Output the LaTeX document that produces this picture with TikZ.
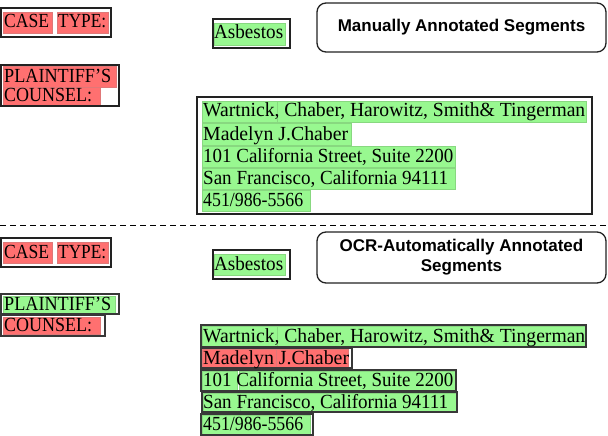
\documentclass[tikz,border=0pt]{standalone}
\usepackage{fontspec}
\setmainfont{Liberation Serif}
\setsansfont{Liberation Sans}
\usepackage{graphicx}
\definecolor{hlred}{HTML}{FF7070}
\definecolor{hlgreen}{HTML}{98F890}
\definecolor{hlredline}{HTML}{E07878}
\definecolor{hlgreenline}{HTML}{88D880}
\definecolor{boxline}{HTML}{222222}
\newcommand{\fw}[2]{\resizebox{#1pt}{\height}{#2}}
\tikzset{
  hlr/.style={fill=hlred, draw=hlredline, line width=0.6pt},
  hlg/.style={fill=hlgreen, draw=hlgreenline, line width=0.6pt},
  txt/.style={anchor=base west, inner sep=0pt, font=\fontsize{20}{23}\selectfont},
  frame/.style={draw=boxline, line width=1.6pt},
  segframe/.style={draw=boxline!90, line width=1.8pt},
  titlebox/.style={draw=boxline, line width=1.3pt, rounded corners=9pt,
    font=\sffamily\bfseries\fontsize{17}{20}\selectfont, align=center,
    minimum width=289pt, inner sep=0pt},
  sep/.style={dashed, dash pattern=on 6pt off 4pt, line width=1pt}
}
\begin{document}
\begin{tikzpicture}[x=1pt,y=-1pt]
\useasboundingbox (0,0) rectangle (608,436);
\fill[white] (0,0) rectangle (608,436);

% ---------- top: manually annotated ----------
\path[hlr] (3,12) rectangle (52,33);
\path[hlr] (57,12) rectangle (108,33);
\draw[frame] (1,8) rectangle (111,37);
\node[txt] (case1) at (4,28) {\fw{45}{CASE}};
\node[txt] (type1) at (58,28) {\fw{48}{TYPE:}};

\path[hlr] (3,66) rectangle (116,87);
\path[hlr] (3,87) rectangle (100,105);
\draw[frame] (1,65) rectangle (119,106);
\node[txt] (plain1) at (4,82) {\fw{107}{PLAINTIFF'S}};
\node[txt] (couns1) at (4,102) {\fw{88}{COUNSEL:}};

\path[hlg] (214,23) rectangle (285,45);
\draw[frame] (213,19) rectangle (290,48);
\node[txt] (asb1) at (214,39) {\fw{69}{Asbestos}};

\node[titlebox, minimum height=49pt] (manual) at (461.5,27.5) {Manually Annotated Segments};

\path[hlg] (202,101) rectangle (277,122);
\path[hlg] (277,101) rectangle (586,122);
\path[hlg] (202,123) rectangle (351,145);
\path[hlg] (202,146) rectangle (455,167);
\path[hlg] (202,168) rectangle (455,189);
\path[hlg] (202,190) rectangle (310,211);
\draw[frame] (197,97) rectangle (592,214);
\node[txt] (addrA1) at (203,117) {\fw{382}{Wartnick, Chaber, Harowitz, Smith\& Tingerman}};
\node[txt] (addrA2) at (203,140) {\fw{145}{Madelyn J.Chaber}};
\node[txt] (addrA3) at (203,162) {\fw{250}{101 California Street, Suite 2200}};
\node[txt] (addrA4) at (203,184) {\fw{245}{San Francisco, California 94111}};
\node[txt] (addrA5) at (203,206) {\fw{100}{451/986-5566}};

% ---------- separator ----------
\draw[sep] (0,225) -- (608,225);

% ---------- bottom: OCR ----------
\path[hlr] (3,242) rectangle (52,263);
\path[hlr] (57,242) rectangle (108,263);
\draw[frame] (1,238) rectangle (111,267);
\node[txt] (case2) at (4,258) {\fw{45}{CASE}};
\node[txt] (type2) at (58,258) {\fw{48}{TYPE:}};

\path[hlg] (3,296) rectangle (115,313);
\draw[segframe] (1,294) rectangle (119,314);
\node[txt] (plain2) at (4,310) {\fw{107}{PLAINTIFF'S}};
\path[hlr] (3,317) rectangle (100,334);
\draw[segframe] (1,315) rectangle (105,336);
\node[txt] (couns2) at (4,331) {\fw{88}{COUNSEL:}};

\path[hlg] (214,254) rectangle (285,275);
\draw[frame] (213,250) rectangle (290,279);
\node[txt] (asb2) at (214,270) {\fw{69}{Asbestos}};

\node[titlebox, minimum height=51pt] (ocr) at (461.5,257.5) {OCR-Automatically Annotated\\Segments};

\path[hlg] (202,326) rectangle (277,346);
\path[hlg] (277,326) rectangle (585,346);
\draw[segframe] (201,325) rectangle (586,347);
\node[txt] (addrB1) at (203,342) {\fw{382}{Wartnick, Chaber, Harowitz, Smith\& Tingerman}};

\path[hlr] (202,349) rectangle (276,367);
\path[hlr] (276,349) rectangle (348,367);
\draw[segframe] (201,348) rectangle (352,368);
\node[txt] (addrB2) at (203,364) {\fw{146}{Madelyn J.Chaber}};

\path[hlg] (202,371) rectangle (237,390);
\path[hlg] (239,371) rectangle (455,390);
\draw[segframe] (201,370) rectangle (456,391);
\node[txt] (addrB3) at (203,386) {\fw{250}{101 California Street, Suite 2200}};

\path[hlg] (203,393) rectangle (240,411);
\path[hlg] (240,393) rectangle (456,411);
\draw[segframe] (202,392) rectangle (457,412);
\node[txt] (addrB4) at (203,408) {\fw{245}{San Francisco, California 94111}};

\path[hlg] (202,415) rectangle (310,434);
\draw[segframe] (201,414) rectangle (313,435);
\node[txt] (addrB5) at (203,430) {\fw{100}{451/986-5566}};
\end{tikzpicture}
\end{document}
